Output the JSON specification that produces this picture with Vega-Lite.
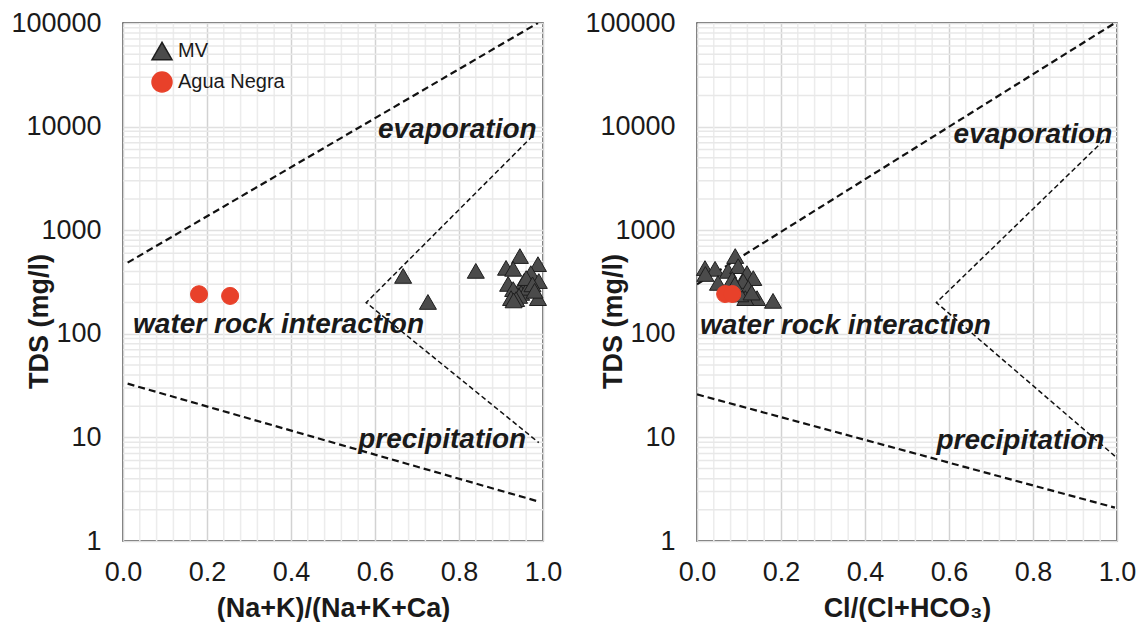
{
  "$schema": "https://vega.github.io/schema/vega-lite/v6.json",
  "background": "white",
  "padding": {"left": 10, "top": 8, "right": 5, "bottom": 0},
  "bounds": "flush",
  "spacing": 154,
  "config": {
    "font": "Liberation Sans",
    "view": {"stroke": "#3a3a3a", "strokeWidth": 1.5},
    "axis": {"labelFontSize": 27, "labelColor": "#1a1a1a", "titleFontSize": 27, "titleFontWeight": "bold", "titleColor": "#1a1a1a", "domain": false, "ticks": false, "tickSize": 0, "labelOverlap": false, "labelFlush": false, "gridWidth": 1.5}
  },
  "resolve": {"scale": {"fill": "independent", "shape": "independent", "stroke": "independent"}},
  "datasets": {
    "minorX": [{"x":0.04},{"x":0.08},{"x":0.12},{"x":0.16},{"x":0.24},{"x":0.28},{"x":0.32},{"x":0.36},{"x":0.44},{"x":0.48},{"x":0.52},{"x":0.56},{"x":0.64},{"x":0.68},{"x":0.72},{"x":0.76},{"x":0.84},{"x":0.88},{"x":0.92},{"x":0.96}],
    "minorY": [{"y":2},{"y":3},{"y":4},{"y":5},{"y":6},{"y":7},{"y":8},{"y":9},{"y":20},{"y":30},{"y":40},{"y":50},{"y":60},{"y":70},{"y":80},{"y":90},{"y":200},{"y":300},{"y":400},{"y":500},{"y":600},{"y":700},{"y":800},{"y":900},{"y":2000},{"y":3000},{"y":4000},{"y":5000},{"y":6000},{"y":7000},{"y":8000},{"y":9000},{"y":20000},{"y":30000},{"y":40000},{"y":50000},{"y":60000},{"y":70000},{"y":80000},{"y":90000}],
    "leftEnv": [{"line":"upper","ord":1,"x":0.011,"y":486},{"line":"upper","ord":2,"x":0.988,"y":100000},{"line":"lower","ord":1,"x":0.011,"y":33},{"line":"lower","ord":2,"x":0.99,"y":2.4}],
    "leftInner": [{"ord":1,"x":0.975,"y":8100},{"ord":2,"x":0.579,"y":200},{"ord":3,"x":0.99,"y":8.9}],
    "rightEnv": [{"line":"upper","ord":1,"x":0.0,"y":300},{"line":"upper","ord":2,"x":0.995,"y":100000},{"line":"lower","ord":1,"x":0.0,"y":26},{"line":"lower","ord":2,"x":0.995,"y":2.1}],
    "rightInner": [{"ord":1,"x":0.969,"y":7400},{"ord":2,"x":0.57,"y":200},{"ord":3,"x":0.995,"y":6.6}],
    "leftText": [{"label":"evaporation","x":0.607,"y":7760},{"label":"water rock interaction","x":0.024,"y":102},{"label":"precipitation","x":0.56,"y":7.9}],
    "rightText": [{"label":"evaporation","x":0.611,"y":6930},{"label":"water rock interaction","x":0.007,"y":100},{"label":"precipitation","x":0.57,"y":7.7}],
    "leftPts": [
      {"group":"MV","x":0.667,"y":362},{"group":"MV","x":0.726,"y":203},{"group":"MV","x":0.84,"y":405},
      {"group":"MV","x":0.945,"y":563},{"group":"MV","x":0.912,"y":433},{"group":"MV","x":0.929,"y":424},
      {"group":"MV","x":0.988,"y":470},{"group":"MV","x":0.971,"y":385},{"group":"MV","x":0.99,"y":323},
      {"group":"MV","x":0.955,"y":323},{"group":"MV","x":0.917,"y":303},{"group":"MV","x":0.929,"y":270},
      {"group":"MV","x":0.948,"y":248},{"group":"MV","x":0.964,"y":278},{"group":"MV","x":0.924,"y":221},
      {"group":"MV","x":0.943,"y":232},{"group":"MV","x":0.988,"y":221},{"group":"MV","x":0.936,"y":216},
      {"group":"MV","x":0.96,"y":345},{"group":"MV","x":0.975,"y":300},{"group":"MV","x":0.93,"y":210},
      {"group":"MV","x":0.98,"y":260},
      {"group":"Agua Negra","x":0.181,"y":241},{"group":"Agua Negra","x":0.255,"y":232}
    ],
    "rightPts": [
      {"group":"MV","x":0.019,"y":431},{"group":"MV","x":0.043,"y":424},{"group":"MV","x":0.091,"y":563},
      {"group":"MV","x":0.074,"y":405},{"group":"MV","x":0.098,"y":450},{"group":"MV","x":0.119,"y":385},
      {"group":"MV","x":0.134,"y":345},{"group":"MV","x":0.05,"y":310},{"group":"MV","x":0.084,"y":337},
      {"group":"MV","x":0.11,"y":323},{"group":"MV","x":0.095,"y":270},{"group":"MV","x":0.122,"y":278},
      {"group":"MV","x":0.143,"y":221},{"group":"MV","x":0.115,"y":221},{"group":"MV","x":0.103,"y":240},
      {"group":"MV","x":0.181,"y":208},{"group":"MV","x":0.02,"y":378},{"group":"MV","x":0.13,"y":250},
      {"group":"MV","x":0.09,"y":300},
      {"group":"Agua Negra","x":0.067,"y":242},{"group":"Agua Negra","x":0.084,"y":242}
    ]
  },
  "hconcat": [
    {
      "width": 420, "height": 518,
      "layer": [
        {"data": {"name": "minorX"}, "mark": {"type": "rule", "color": "#ececec", "strokeWidth": 1.5},
         "encoding": {"x": {"field": "x", "type": "quantitative", "scale": {"domain": [0, 1], "nice": false, "zero": false},
           "axis": {"values": [0, 0.2, 0.4, 0.6, 0.8, 1], "format": ".1f", "title": "(Na+K)/(Na+K+Ca)", "grid": true, "gridColor": "#d2d2d2", "labelBaseline": "alphabetic", "labelPadding": 39, "titleY": 75, "titleBaseline": "alphabetic"}}}},
        {"data": {"name": "minorY"}, "mark": {"type": "rule", "color": "#e8e8e8", "strokeWidth": 1.5},
         "encoding": {"y": {"field": "y", "type": "quantitative", "scale": {"type": "log", "domain": [1, 100000], "nice": false},
           "axis": {"values": [1, 10, 100, 1000, 10000, 100000], "format": "d", "title": "TDS (mg/l)", "grid": true, "gridColor": "#e0e0e0", "labelPadding": 22, "titleX": -84, "titleY": 298, "titleAngle": -90, "titleAlign": "center", "titleBaseline": "middle"}}}},
        {"data": {"name": "leftEnv"}, "mark": {"type": "line", "color": "#111111", "strokeWidth": 2.2, "strokeDash": [7, 4], "clip": true},
         "encoding": {"x": {"field": "x", "type": "quantitative"}, "y": {"field": "y", "type": "quantitative"}, "detail": {"field": "line"}, "order": {"field": "ord", "type": "quantitative"}}},
        {"data": {"name": "leftInner"}, "mark": {"type": "line", "color": "#111111", "strokeWidth": 1.5, "strokeDash": [5, 3], "clip": true},
         "encoding": {"x": {"field": "x", "type": "quantitative"}, "y": {"field": "y", "type": "quantitative"}, "order": {"field": "ord", "type": "quantitative"}}},
        {"data": {"name": "leftPts"}, "mark": {"type": "point", "size": 290, "opacity": 1, "strokeWidth": 1},
         "encoding": {
           "x": {"field": "x", "type": "quantitative"},
           "y": {"field": "y", "type": "quantitative"},
           "shape": {"field": "group", "type": "nominal", "scale": {"domain": ["MV", "Agua Negra"], "range": ["triangle-up", "circle"]},
                     "legend": {"orient": "none", "legendX": 28, "legendY": 17, "title": null, "labelFontSize": 20, "labelColor": "#1a1a1a", "symbolSize": 400, "rowPadding": 6, "labelOffset": 5, "padding": 0}},
           "fill": {"field": "group", "type": "nominal", "scale": {"domain": ["MV", "Agua Negra"], "range": ["#4b4b4b", "#e8412a"]},
                    "legend": {"orient": "none", "legendX": 28, "legendY": 17, "title": null, "labelFontSize": 20, "labelColor": "#1a1a1a", "symbolSize": 400, "rowPadding": 6, "labelOffset": 5, "padding": 0}},
           "stroke": {"field": "group", "type": "nominal", "scale": {"domain": ["MV", "Agua Negra"], "range": ["#1e1e1e", "#e8412a"]},
                      "legend": {"orient": "none", "legendX": 28, "legendY": 17, "title": null, "labelFontSize": 20, "labelColor": "#1a1a1a", "symbolSize": 400, "rowPadding": 6, "labelOffset": 5, "padding": 0}}
         }},
        {"data": {"name": "leftText"}, "mark": {"type": "text", "fontSize": 28, "fontWeight": "bold", "fontStyle": "italic", "align": "left", "baseline": "alphabetic", "color": "#1a1a1a"},
         "encoding": {"x": {"field": "x", "type": "quantitative"}, "y": {"field": "y", "type": "quantitative"}, "text": {"field": "label"}}}
      ]
    },
    {
      "width": 420, "height": 518,
      "layer": [
        {"data": {"name": "minorX"}, "mark": {"type": "rule", "color": "#ececec", "strokeWidth": 1.5},
         "encoding": {"x": {"field": "x", "type": "quantitative", "scale": {"domain": [0, 1], "nice": false, "zero": false},
           "axis": {"values": [0, 0.2, 0.4, 0.6, 0.8, 1], "format": ".1f", "title": "Cl/(Cl+HCO₃)", "grid": true, "gridColor": "#d2d2d2", "labelBaseline": "alphabetic", "labelPadding": 39, "titleY": 75, "titleBaseline": "alphabetic"}}}},
        {"data": {"name": "minorY"}, "mark": {"type": "rule", "color": "#e8e8e8", "strokeWidth": 1.5},
         "encoding": {"y": {"field": "y", "type": "quantitative", "scale": {"type": "log", "domain": [1, 100000], "nice": false},
           "axis": {"values": [1, 10, 100, 1000, 10000, 100000], "format": "d", "title": "TDS (mg/l)", "grid": true, "gridColor": "#e0e0e0", "labelPadding": 22, "titleX": -84, "titleY": 298, "titleAngle": -90, "titleAlign": "center", "titleBaseline": "middle"}}}},
        {"data": {"name": "rightEnv"}, "mark": {"type": "line", "color": "#111111", "strokeWidth": 2.2, "strokeDash": [7, 4], "clip": true},
         "encoding": {"x": {"field": "x", "type": "quantitative"}, "y": {"field": "y", "type": "quantitative"}, "detail": {"field": "line"}, "order": {"field": "ord", "type": "quantitative"}}},
        {"data": {"name": "rightInner"}, "mark": {"type": "line", "color": "#111111", "strokeWidth": 1.5, "strokeDash": [5, 3], "clip": true},
         "encoding": {"x": {"field": "x", "type": "quantitative"}, "y": {"field": "y", "type": "quantitative"}, "order": {"field": "ord", "type": "quantitative"}}},
        {"data": {"name": "rightPts"}, "mark": {"type": "point", "size": 290, "opacity": 1, "strokeWidth": 1},
         "encoding": {
           "x": {"field": "x", "type": "quantitative"},
           "y": {"field": "y", "type": "quantitative"},
           "shape": {"field": "group", "type": "nominal", "scale": {"domain": ["MV", "Agua Negra"], "range": ["triangle-up", "circle"]}, "legend": null},
           "fill": {"field": "group", "type": "nominal", "scale": {"domain": ["MV", "Agua Negra"], "range": ["#4b4b4b", "#e8412a"]}, "legend": null},
           "stroke": {"field": "group", "type": "nominal", "scale": {"domain": ["MV", "Agua Negra"], "range": ["#1e1e1e", "#e8412a"]}, "legend": null}
         }},
        {"data": {"name": "rightText"}, "mark": {"type": "text", "fontSize": 28, "fontWeight": "bold", "fontStyle": "italic", "align": "left", "baseline": "alphabetic", "color": "#1a1a1a"},
         "encoding": {"x": {"field": "x", "type": "quantitative"}, "y": {"field": "y", "type": "quantitative"}, "text": {"field": "label"}}}
      ]
    }
  ]
}
